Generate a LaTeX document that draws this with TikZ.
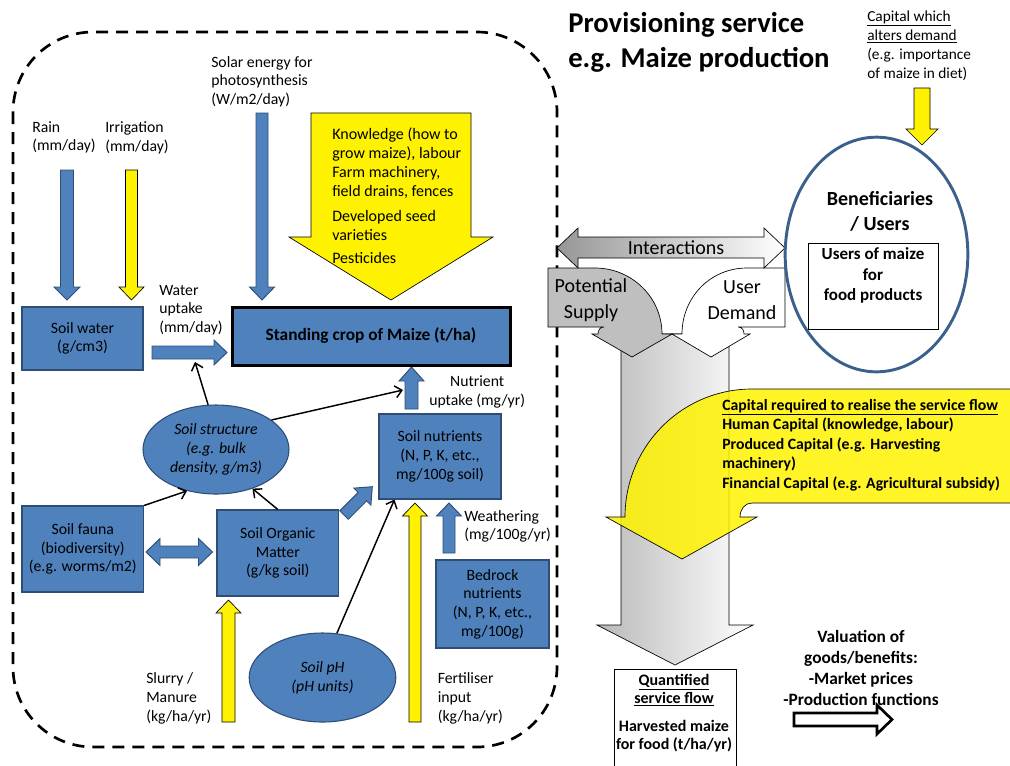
\documentclass[tikz,border=0pt]{standalone}
\usepackage{fontspec}
\setmainfont{Carlito}
\usetikzlibrary{arrows.meta,shapes.geometric}
\definecolor{boxblue}{RGB}{79,129,189}
\definecolor{edgeblue}{RGB}{46,78,120}
\definecolor{ringblue}{RGB}{60,96,140}
\definecolor{supplygrey}{RGB}{191,191,191}
\tikzset{
  bluebox/.style={draw=edgeblue, fill=boxblue, line width=0.8pt, align=center, inner sep=0pt},
  blueell/.style={ellipse, draw=edgeblue, fill=boxblue, line width=0.8pt, align=center, inner sep=0pt, font=\fontsize{11.8}{14}\selectfont\itshape},
  bluearr/.style={draw=edgeblue, fill=boxblue, line width=0.7pt},
  yelarr/.style={draw=black, fill=yellow, line width=0.5pt},
  lbl/.style={inner sep=0pt, align=left},
  conn/.style={draw, line width=1.1pt, -{Straight Barb[length=5pt,width=9pt,line width=1.1pt]}},
}
\begin{document}
\begin{tikzpicture}[x=0.75pt,y=0.75pt,yscale=-1,font=\fontsize{11.8}{14}\selectfont]
\useasboundingbox (0,0) rectangle (1010,765);

%Shape: dashed system boundary
\draw[dashed, line width=2pt, dash pattern=on 9pt off 6pt, rounded corners=60pt] (13,32) rectangle (557,747);

%Shape: Down Arrow (rain)
\draw[bluearr] (60.5,170) -- (73.5,170) -- (73.5,287) -- (80,287) -- (67,300) -- (54,287) -- (60.5,287) -- cycle;
%Shape: Down Arrow (irrigation)
\draw[yelarr] (125.5,170) -- (137.5,170) -- (137.5,287) -- (144,287) -- (131.5,300) -- (119,287) -- (125.5,287) -- cycle;
%Shape: Down Arrow (solar)
\draw[bluearr] (256,113) -- (268,113) -- (268,287) -- (274.5,287) -- (262,300) -- (249.5,287) -- (256,287) -- cycle;
%Shape: Down Arrow (knowledge)
\draw[yelarr] (311,113) -- (471,113) -- (471,237) -- (493,237) -- (391,300) -- (289,237) -- (311,237) -- cycle;
%Shape: Right Arrow (water uptake)
\draw[bluearr] (152,346) -- (214,346) -- (214,340) -- (227,352.5) -- (214,365) -- (214,359) -- (152,359) -- cycle;
%Shape: Up Arrow (nutrient uptake)
\draw[bluearr] (405,409) -- (418,409) -- (418,381) -- (424,381) -- (411.5,367) -- (399,381) -- (405,381) -- cycle;
%Shape: Left Right Arrow (fauna - organic matter)
\draw[bluearr] (146,552) -- (160,538.5) -- (160,546) -- (198.5,546) -- (198.5,538.5) -- (212.5,552) -- (198.5,565.5) -- (198.5,558) -- (160,558) -- (160,565.5) -- cycle;
%Shape: Arrow (organic matter - nutrients)
\draw[bluearr] (339.8,510.8) -- (358.2,492.4) -- (353.9,488.1) -- (372.3,486.7) -- (370.9,505.1) -- (366.6,500.8) -- (348.2,519.2) -- cycle;
%Shape: Up Arrow (fertiliser)
\draw[yelarr] (409,722) -- (421,722) -- (421,516) -- (427.5,516) -- (415,503) -- (402.5,516) -- (409,516) -- cycle;
%Shape: Up Arrow (weathering)
\draw[bluearr] (443,553) -- (455,553) -- (455,516) -- (461.5,516) -- (449,503) -- (436.5,516) -- (443,516) -- cycle;
%Shape: Up Arrow (slurry)
\draw[yelarr] (222,722) -- (235,722) -- (235,613) -- (241,613) -- (228.5,600) -- (216,613) -- (222,613) -- cycle;

% Boxes and ellipses
\node[bluebox, minimum width=90.75pt, minimum height=47.25pt] (soilwater) at (82.5,338.5) {Soil water\\(g/cm3)};
\node[bluebox, draw=black, line width=2.25pt, minimum width=208.5pt, minimum height=43.5pt, font=\fontsize{13}{15}\selectfont\bfseries] (crop) at (371,336) {Standing crop of Maize (t/ha)};
\node[blueell, minimum width=109.5pt, minimum height=66.75pt] (struct) at (216,449.5) {Soil structure\\(e.g. bulk\\density, g/m3)};
\node[bluebox, minimum width=91.5pt, minimum height=63.75pt] (nutrients) at (440,456.5) {Soil nutrients\\(N, P, K, etc.,\\mg/100g soil)};
\node[bluebox, minimum width=91.2pt, minimum height=64.5pt] (fauna) at (82.8,549) {Soil fauna\\(biodiversity)\\(e.g. worms/m2)};
\node[bluebox, minimum width=91.2pt, minimum height=64.5pt] (som) at (277.8,553) {Soil Organic\\Matter\\(g/kg soil)};
\node[bluebox, minimum width=84.75pt, minimum height=66pt] (bedrock) at (492.5,604) {Bedrock\\nutrients\\(N, P, K, etc.,\\mg/100g)};
\node[blueell, minimum width=110pt, minimum height=66.75pt] (ph) at (322.5,677.5) {Soil pH\\(pH units)};

% Connectors
\coordinate (uptaketail) at (195,362);
\coordinate (nutbase) at (403,390);
\draw[conn] (struct.100) -- (uptaketail);
\draw[conn] (struct.28) -- (nutbase);
\draw[conn] (fauna.north east) -- (struct.235);
\draw[conn] (som.north) -- (struct.-47);
\draw[conn] (ph.72) -- ([xshift=12pt]nutrients.south west);

% Text Node
\node[lbl, anchor=west] (rainlbl) at (32,137.5) {Rain\\(mm/day)};
\node[lbl, anchor=west] (irrlbl) at (105,137.5) {Irrigation\\(mm/day)};
\node[lbl, anchor=west] (solarlbl) at (211,81.5) {Solar energy for\\photosynthesis\\(W/m2/day)};
\node[lbl, anchor=west, font=\fontsize{12}{14.25}\selectfont] (knowlbl) at (332,195.5) {Knowledge (how to\\grow maize), labour\\Farm machinery,\\field drains, fences\\[4.5pt]Developed seed\\varieties\\[3pt]Pesticides};
\node[lbl, anchor=west] (uptakelbl) at (159,310) {Water\\uptake\\(mm/day)};
\node[lbl, anchor=west, align=center] (nutlbl) at (429,392) {Nutrient\\uptake (mg/yr)};
\node[lbl, anchor=west] (weatherlbl) at (464,526.5) {Weathering\\(mg/100g/yr)};
\node[lbl, anchor=west] (slurrylbl) at (146,698.5) {Slurry /\\Manure\\(kg/ha/yr)};
\node[lbl, anchor=west] (fertlbl) at (437.5,698.5) {Fertiliser\\input\\(kg/ha/yr)};

%Shape: Down Arrow (service flow)
\draw[left color={rgb,255:red,185;green,185;blue,185}, right color=white, draw=black, line width=0.5pt] (621,334) -- (729,334) -- (729,625) -- (753,625) -- (675,665) -- (597,625) -- (621,625) -- cycle;
%Shape: Bent Arrow (potential supply)
\draw[fill=supplygrey, draw=black, line width=0.5pt] (548,268) -- (595,268) .. controls (632,268) and (662,297.6) .. (662,334) -- (672,334) -- (632,357) -- (592,334) -- (598,334) .. controls (598,330) and (600,327) .. (604,327) -- (548,327) -- cycle;
%Shape: Bent Arrow (user demand)
\draw[fill=white, draw=black, line width=0.5pt] (785,268) -- (747,268) .. controls (710,268) and (682,297.6) .. (682,334) -- (672,334) -- (711,357) -- (750,334) -- (744,334) .. controls (744,330) and (742,327) .. (738,327) -- (785,327) -- cycle;
%Shape: Left Right Arrow (interactions)
\draw[left color={rgb,255:red,150;green,150;blue,150}, right color=white, draw=black, line width=0.5pt] (557,248) -- (578,228) -- (578,237) -- (764,237) -- (764,228) -- (785,248) -- (764,268) -- (764,258) -- (578,258) -- (578,268) -- cycle;
%Shape: Down Arrow (demand capital)
\draw[yelarr] (914,88) -- (930,88) -- (930,129) -- (938,129) -- (922,145) -- (906,129) -- (914,129) -- cycle;

\node[lbl, anchor=west, font=\fontsize{21.5}{26.25}\selectfont\bfseries] (title) at (568,42.5) {Provisioning service\\e.g. Maize production};
\node[lbl, anchor=west, font=\fontsize{11.5}{14.25}\selectfont] (demandcap) at (867,45.5) {\underline{Capital which}\\\underline{alters demand}\\(e.g. importance\\of maize in diet)};
\node[lbl, align=center, font=\fontsize{15}{19.5}\selectfont] (interlbl) at (676,248) {Interactions};
\node[lbl, align=center, font=\fontsize{15}{19.5}\selectfont] (supplylbl) at (591,300) {Potential\\Supply};
\node[lbl, align=center, font=\fontsize{15}{19.5}\selectfont] (demandlbl) at (742,300) {User\\Demand};

% Beneficiaries
\node[ellipse, draw=ringblue, line width=2.2pt, minimum width=137pt, minimum height=176pt] (benef) at (876.5,254.5) {};
\node[lbl, align=center, font=\fontsize{15}{18.75}\selectfont\bfseries] (beneflbl) at (880,211.5) {Beneficiaries\\/ Users};
\node[draw=black, fill=white, line width=0.5pt, minimum width=97.5pt, minimum height=64.5pt] (usersbox) at (873,286) {};
\node[lbl, align=center, font=\fontsize{12.75}{15.4}\selectfont\bfseries] (userslbl) at (873,275.5) {Users of maize\\for\\food products};

%Shape: Curved Down Arrow (capital required)
\draw[fill=yellow, fill opacity=0.85, draw=black, line width=0.5pt] (1015,389) -- (752,389) .. controls (682,389) and (625,446) .. (625,517) -- (606,517) -- (682,559) -- (757,517) -- (740,517) .. controls (740,509) and (745,503) .. (752,503) -- (1015,503);
\node[lbl, anchor=west, font=\fontsize{11.8}{14.6}\selectfont\bfseries] (caplbl) at (722,445) {\underline{Capital required to realise the service flow}\\Human Capital (knowledge, labour)\\Produced Capital (e.g. Harvesting\\machinery)\\Financial Capital (e.g. Agricultural subsidy)};

% Quantified service flow
\node[draw=black, fill=white, line width=0.5pt, minimum width=91.5pt, minimum height=79.5pt] (flowbox) at (675,722) {};
\node[lbl, align=center, font=\fontsize{12}{13.5}\selectfont\bfseries] (flowlbl) at (674,713) {\underline{Quantified}\\\underline{service flow}\\[7pt]Harvested maize\\for food (t/ha/yr)};

% Valuation
\node[lbl, align=center, font=\fontsize{13}{15.75}\selectfont\bfseries] (valuelbl) at (861,667.5) {Valuation of\\goods/benefits:\\-Market prices\\-Production functions};
%Shape: Right Arrow (valuation)
\draw[fill=white, draw=black, line width=2pt] (794,713) -- (877,713) -- (877,705) -- (892,719.5) -- (877,734) -- (877,726) -- (794,726) -- cycle;

\end{tikzpicture}
\end{document}
